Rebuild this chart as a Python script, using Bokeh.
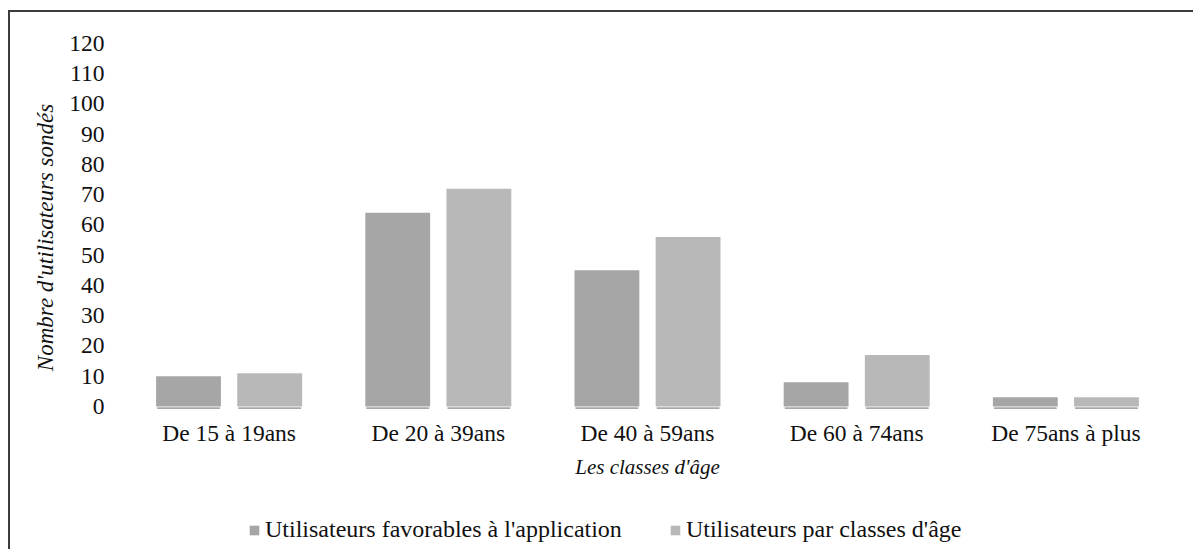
from bokeh.plotting import figure
from bokeh.layouts import column
from bokeh.models import FactorRange, Range1d, FixedTicker, Legend, LegendItem
from bokeh.transform import dodge
from bokeh.embed import file_html
from bokeh.resources import INLINE

categories = ["De 15 à 19ans", "De 20 à 39ans", "De 40 à 59ans", "De 60 à 74ans", "De 75ans à plus"]
favorables = [10, 64, 45, 8, 3]
par_classe = [11, 72, 56, 17, 3]
y_ticks = list(range(0, 121, 10))
series_names = ["Utilisateurs favorables à l'application", "Utilisateurs par classes d'âge"]

FONT = "Liberation Serif"
TXT = "#111111"
C_FAV = "#a6a6a6"
C_TOT = "#b8b8b8"

src = dict(cat=categories, fav=favorables, tot=par_classe)

# ---------------- main chart ----------------
p = figure(
    x_range=FactorRange(factors=categories, range_padding=0),
    y_range=Range1d(-8.3, 120),
    width=1183, height=478,
    output_backend="svg", toolbar_location=None,
    min_border_left=114, min_border_right=23, min_border_top=31, min_border_bottom=59,
)
p.outline_line_color = None
p.xgrid.grid_line_color = None
p.ygrid.grid_line_color = None
p.background_fill_color = "white"
p.border_fill_color = "white"

for off in (-0.194, 0.194):
    p.vbar(x=dodge("cat", off, range=p.x_range), top=-0.25, bottom=-0.9, width=0.30,
           source=src, fill_color="#7a7a7a", fill_alpha=0.65, line_color=None)

p.vbar(x=dodge("cat", -0.194, range=p.x_range), top="fav", bottom=0, width=0.31,
       source=src, fill_color=C_FAV, line_color=None)
p.vbar(x=dodge("cat", 0.194, range=p.x_range), top="tot", bottom=0, width=0.31,
       source=src, fill_color=C_TOT, line_color=None)

p.yaxis.ticker = FixedTicker(ticks=y_ticks)
for ax in (p.xaxis[0], p.yaxis[0]):
    ax.axis_line_color = None
    ax.major_tick_line_color = None
    ax.minor_tick_line_color = None
    ax.major_tick_out = 0
    ax.major_tick_in = 0
    ax.major_label_text_font = FONT
    ax.major_label_text_font_size = "23.5px"
    ax.major_label_text_color = TXT
    ax.axis_label_text_font = FONT
    ax.axis_label_text_font_style = "italic"
    ax.axis_label_text_color = TXT

p.yaxis.major_label_standoff = 20
p.yaxis.axis_label = "Nombre d'utilisateurs sondés"
p.yaxis.axis_label_text_font_size = "23px"
p.yaxis.axis_label_standoff = 8

p.xaxis.major_label_standoff = -12
p.xaxis.axis_label = "Les classes d'âge"
p.xaxis.axis_label_text_font_size = "21px"
p.xaxis.axis_label_standoff = 6

# ---------------- legend strip ----------------
lg = figure(
    x_range=FactorRange(factors=categories, range_padding=0),
    y_range=Range1d(1000, 1001),
    width=1183, height=59,
    output_backend="svg", toolbar_location=None,
    x_axis_type=None, y_axis_type=None,
    min_border_left=0, min_border_right=0, min_border_top=0, min_border_bottom=0,
)
lg.outline_line_color = None
lg.background_fill_color = "white"
lg.border_fill_color = "white"
l1 = lg.vbar(x=dodge("cat", -0.194, range=lg.x_range), top="fav", bottom=0, width=0.31,
             source=src, fill_color=C_FAV, line_color=None)
l2 = lg.vbar(x=dodge("cat", 0.194, range=lg.x_range), top="tot", bottom=0, width=0.31,
             source=src, fill_color=C_TOT, line_color=None)

legend = Legend(
    items=[LegendItem(label=series_names[0], renderers=[l1]),
           LegendItem(label=series_names[1], renderers=[l2])],
    location=(124, 6), orientation="horizontal",
    padding=0, margin=0, border_line_color=None, background_fill_alpha=0,
    label_text_font=FONT, label_text_font_size="24px", label_text_color=TXT,
    glyph_width=12, glyph_height=12, label_standoff=5, spacing=47, label_height=24,
)
lg.add_layout(legend)

layout = column(p, lg, spacing=0)
layout.styles = {"border-top": "2px solid #3c3c3c", "border-left": "2px solid #3c3c3c",
                 "margin-top": "10px", "margin-left": "8px"}

open("out.html", "w").write(file_html(layout, INLINE))
